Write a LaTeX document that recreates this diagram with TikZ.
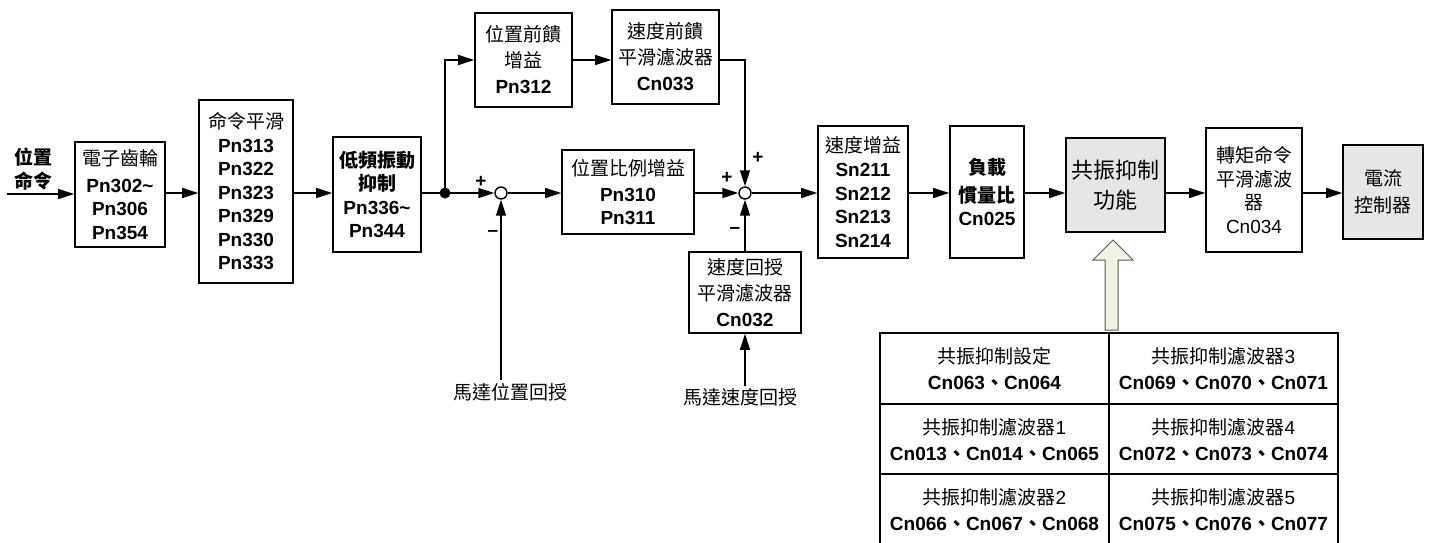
\documentclass[tikz,border=0pt]{standalone}
\usepackage{fontspec}
\setmainfont{Liberation Sans}
\newfontfamily\cjkfont{Noto Sans CJK TC}
\newcommand\ZH[1]{{\cjkfont #1}}
\usetikzlibrary{arrows.meta}
\definecolor{boxgray}{RGB}{230,230,230}
\definecolor{arrfill}{RGB}{240,243,226}
\definecolor{arrline}{RGB}{90,90,90}
\begin{document}
\begin{tikzpicture}[x=1pt,y=-1pt,
  blk/.style={draw,line width=1.6pt,rectangle,align=center,inner sep=0pt},
  f19/.style={font=\fontsize{19}{23.5}\selectfont},
  f19w/.style={font=\fontsize{19}{26}\selectfont},
  arr/.style={line width=1.4pt,-{Triangle[length=16pt,width=10pt]}},
  ln/.style={line width=1.4pt},
  sumc/.style={circle,draw,line width=1.4pt,minimum size=12pt,inner sep=0pt,fill=white},
  sign/.style={font=\fontsize{19}{19}\selectfont\bfseries,inner sep=0pt},
  cell/.style={align=center,font=\fontsize{19}{26}\selectfont,inner sep=0pt},
  lbl/.style={font=\fontsize{19}{23}\selectfont,inner sep=0pt,align=center}
]
\useasboundingbox (0,0) rectangle (1431,542);
\coordinate (m) at (0,193);

% input label
\node[lbl] (inlbl) at (33,169) {\ZH{\bfseries 位置}\\[1pt]\ZH{\bfseries 命令}};
\coordinate (inS) at (7,194);

% blocks left part
\node[blk,f19,minimum width=90pt,minimum height=105pt] (b1) at (120,194.5)
  {\ZH{電子齒輪}\\[3pt]\textbf{Pn302\textasciitilde}\\\textbf{Pn306}\\\textbf{Pn354}};
\node[blk,f19,minimum width=94pt,minimum height=183pt] (b2) at (246,191.5)
  {\ZH{命令平滑}\\\textbf{Pn313}\\\textbf{Pn322}\\\textbf{Pn323}\\\textbf{Pn329}\\\textbf{Pn330}\\\textbf{Pn333}};
\node[blk,f19,minimum width=88pt,minimum height=115pt] (b3) at (377,194.5)
  {\ZH{\bfseries 低頻振動}\\\ZH{\bfseries 抑制}\\\textbf{Pn336\textasciitilde}\\\textbf{Pn344}};

\fill (445,193) circle (5.5pt);
\coordinate (j) at (445,193);
\node[sumc] (c1) at (501,193) {};

% feedforward
\node[blk,f19w,minimum width=97pt,minimum height=94pt] (ff1) at (523.5,60)
  {\ZH{位置前饋}\\\ZH{增益}\\\textbf{Pn312}};
\node[blk,f19w,minimum width=107pt,minimum height=94pt] (ff2) at (665.5,57)
  {\ZH{速度前饋}\\\ZH{平滑濾波器}\\\textbf{Cn033}};

\node[blk,f19w,minimum width=132pt,minimum height=84pt] (kp) at (628,192)
  {\ZH{位置比例增益}\\\textbf{Pn310}\\[-3pt]\textbf{Pn311}};
\node[sumc] (c2) at (745,193) {};
\node[blk,f19w,minimum width=112pt,minimum height=81pt] (vf) at (745,292.5)
  {\ZH{速度回授}\\\ZH{平滑濾波器}\\\textbf{Cn032}};

\node[lbl] (fbl1) at (510,392) {\ZH{馬達位置回授}};
\node[lbl] (fbl2) at (740,397) {\ZH{馬達速度回授}};
\coordinate (fb1) at (501,380);
\coordinate (fb2) at (745,386);

% right part
\node[blk,f19,minimum width=90pt,minimum height=132pt] (sg) at (863,192)
  {\ZH{速度增益}\\[1pt]\textbf{Sn211}\\\textbf{Sn212}\\\textbf{Sn213}\\\textbf{Sn214}};
\node[blk,f19,minimum width=74pt,minimum height=132pt] (ld) at (987,192)
  {\ZH{\bfseries 負載}\\[4pt]\ZH{\bfseries 慣量比}\\\textbf{Cn025}};
\node[blk,font=\fontsize{22}{30}\selectfont,minimum width=99pt,minimum height=94pt,fill=boxgray] (rs) at (1115.5,185)
  {\ZH{共振抑制}\\\ZH{功能}};
\node[blk,f19,minimum width=96pt,minimum height=124pt] (tq) at (1254,190)
  {\ZH{轉矩命令}\\\ZH{平滑濾波}\\\ZH{器}\\Cn034};
\node[blk,font=\fontsize{19}{27}\selectfont,minimum width=80pt,minimum height=94pt,fill=boxgray] (cc) at (1383,192)
  {\ZH{電流}\\\ZH{控制器}};

% signs
\node[sign] (s1) at (481,182) {+};
\node[sign] (s2) at (493,233) {\textendash};
\node[sign] (s3) at (727,178) {+};
\node[sign] (s4) at (758,158) {+};
\node[sign] (s5) at (735,230) {\textendash};

% connectors
\draw[arr] (inS) -- (b1.west |- inS);
\draw[arr] (b1.east |- m) -- (b2.west |- m);
\draw[arr] (b2.east |- m) -- (b3.west |- m);
\draw[ln] (b3.east |- m) -- (j);
\draw[arr] (j) -- (c1.west);
\draw[arr] (j) |- (ff1.west);
\draw[arr] (ff1.east) -- (ff1.east -| ff2.west);
\draw[arr] (ff2.east |- ff1.east) -| (c2.north);
\draw[arr] (c1.east) -- (kp.west |- m);
\draw[arr] (kp.east |- m) -- (c2.west);
\draw[arr] (fb1) -- (c1.south);
\draw[arr] (vf.north) -- (c2.south);
\draw[arr] (fb2) -- (vf.south);
\draw[arr] (c2.east) -- (sg.west |- m);
\draw[arr] (sg.east |- m) -- (ld.west |- m);
\draw[arr] (ld.east |- m) -- (rs.west |- m);
\draw[arr] (rs.east |- m) -- (tq.west |- m);
\draw[arr] (tq.east |- m) -- (cc.west |- m);

% block arrow
\draw[draw=arrline,fill=arrfill,line width=1pt]
  (1105,330) -- (1105,260) -- (1093,260) -- (1113,240) -- (1133,260) -- (1118,260) -- (1118,330) -- cycle;

% table
\draw[line width=1.6pt] (880,546) -- (880,333) -- (1338,333) -- (1338,546);
\draw[line width=1.6pt] (1109,333) -- (1109,546);
\draw[line width=1.6pt] (880,404) -- (1338,404);
\draw[line width=1.6pt] (880,474) -- (1338,474);

\node[cell] (t11) at (994.5,369) {\ZH{共振抑制設定}\\\textbf{Cn063\ZH{、}Cn064}};
\node[cell] (t12) at (1223.5,369) {\ZH{共振抑制濾波器}3\\\textbf{Cn069\ZH{、}Cn070\ZH{、}Cn071}};
\node[cell] (t21) at (994.5,440) {\ZH{共振抑制濾波器}1\\\textbf{Cn013\ZH{、}Cn014\ZH{、}Cn065}};
\node[cell] (t22) at (1223.5,440) {\ZH{共振抑制濾波器}4\\\textbf{Cn072\ZH{、}Cn073\ZH{、}Cn074}};
\node[cell] (t31) at (994.5,510) {\ZH{共振抑制濾波器}2\\\textbf{Cn066\ZH{、}Cn067\ZH{、}Cn068}};
\node[cell] (t32) at (1223.5,510) {\ZH{共振抑制濾波器}5\\\textbf{Cn075\ZH{、}Cn076\ZH{、}Cn077}};
\end{tikzpicture}
\end{document}
